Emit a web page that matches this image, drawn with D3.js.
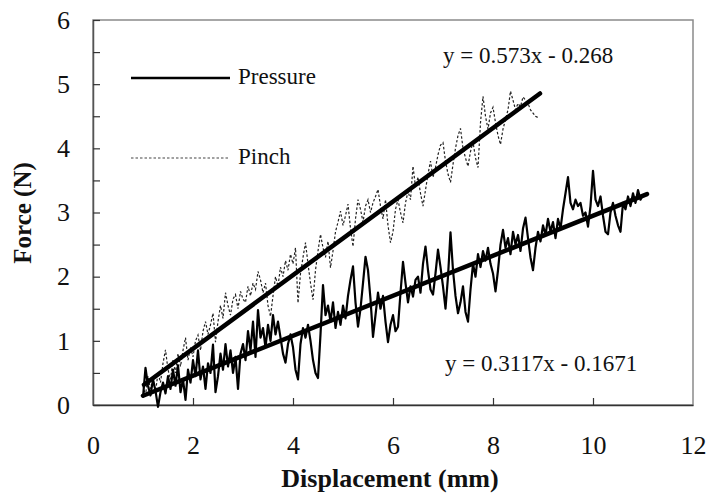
<!DOCTYPE html>
<html>
<head>
<meta charset="utf-8">
<script src="https://cdn.jsdelivr.net/npm/d3@7"></script>
<style>
  html, body { margin: 0; padding: 0; background: #fff; }
  svg { display: block; }
  text { font-family: "Liberation Serif", "Times New Roman", serif; fill: #111; }
</style>
</head>
<body>
<svg id="chart" width="710" height="495"></svg>
<script>
// Force vs displacement, sampled every 0.05 mm
const SAMPLE_STEP = 0.05;
const pressureStart = 1.0;
const pinchStart = 1.0;

const pressureForce = [
  0.12, 0.58, 0.30, 0.15, 0.40, 0.22, -0.03, 0.20, 0.35, 0.18,
  0.45, 0.25, 0.55, 0.30, 0.62, 0.20, 0.40, 0.08, 0.55, 0.35,
  0.70, 0.45, 0.85, 0.40, 0.60, 0.25, 0.65, 0.50, 0.94, 0.20,
  0.45, 0.80, 0.55, 0.95, 0.60, 0.85, 0.50, 0.75, 0.25, 0.80,
  0.95, 0.70, 1.15, 0.85, 1.30, 0.75, 1.48, 1.05, 1.20, 0.90,
  1.25, 1.00, 1.40, 1.10, 1.30, 1.05, 0.80, 0.66, 0.95, 1.10,
  0.90, 0.55, 0.40, 0.95, 1.20, 1.05, 1.25, 1.00, 0.70, 0.50,
  0.42, 1.10, 1.87, 1.40, 1.55, 1.30, 1.60, 1.20, 1.45, 1.25,
  1.55, 1.35, 1.70, 1.95, 2.16, 1.60, 1.22, 1.50, 1.90, 2.31,
  2.10, 1.65, 1.06, 1.40, 1.75, 1.50, 1.70, 1.30, 0.98, 1.25,
  1.40, 1.15, 1.22, 1.75, 2.23, 1.90, 1.60, 1.85, 1.69, 1.95,
  2.00, 1.75, 2.20, 2.47, 2.10, 1.80, 1.72, 2.05, 2.42, 2.15,
  1.85, 1.50, 2.00, 2.69, 2.10, 1.70, 1.43, 1.60, 1.85, 1.45,
  1.30, 1.80, 2.20, 2.00, 2.35, 2.15, 2.40, 2.25, 2.45, 2.20,
  2.05, 1.77, 2.10, 2.50, 2.73, 2.45, 2.60, 2.35, 2.70, 2.50,
  2.65, 2.40, 2.75, 2.92, 2.60, 2.30, 2.10, 2.45, 2.70, 2.55,
  2.80, 2.65, 2.90, 2.70, 2.85, 2.60, 2.90, 2.75, 3.05, 3.30,
  3.55, 3.15, 3.05, 3.20, 3.10, 3.15, 2.95, 3.00, 2.78, 3.10,
  3.65, 3.20, 3.10, 3.25, 2.95, 2.70, 2.66, 3.00, 3.15, 2.95,
  2.80, 2.70, 3.15, 3.05, 3.25, 3.10, 3.30, 3.15, 3.35, 3.20,
  3.28
];

const pinchForce = [
  0.30, 0.15, 0.45, 0.25, 0.40, 0.20, 0.50, 0.35, 0.65, 0.86,
  0.55, 0.40, 0.70, 0.50, 0.80, 0.60, 0.85, 1.05, 0.70, 0.90,
  0.75, 1.00, 1.09, 0.85, 1.15, 1.30, 1.10, 1.25, 1.43, 0.98,
  1.30, 1.55, 1.35, 1.75, 1.55, 1.40, 1.65, 1.72, 1.50, 1.77,
  1.65, 1.60, 1.85, 1.70, 1.90, 1.80, 2.08, 1.95, 1.75, 1.90,
  1.55, 1.38, 1.70, 2.00, 1.85, 2.15, 2.00, 2.25, 2.10, 2.35,
  2.20, 2.45, 1.59, 2.05, 2.30, 2.53, 2.20, 1.90, 1.64, 2.10,
  2.40, 2.66, 2.45, 2.30, 2.55, 2.14, 2.40, 2.70, 2.85, 3.02,
  2.80, 2.95, 3.13, 2.75, 2.47, 2.90, 3.20, 3.05, 2.85, 3.10,
  3.20, 3.00, 3.15, 3.25, 3.36, 3.10, 2.90, 3.20, 2.80, 2.53,
  2.70, 3.05, 3.20, 3.00, 2.84, 3.15, 3.33, 3.20, 3.72, 3.40,
  3.55, 3.30, 3.10, 3.35, 3.60, 3.80, 3.55, 3.70, 3.90, 4.05,
  4.09, 3.80, 3.60, 3.47, 3.75, 4.00, 4.20, 4.31, 4.00, 3.85,
  3.72, 3.95, 4.10, 3.85, 3.70, 4.40, 4.81, 4.50, 4.30, 4.55,
  4.64, 4.40, 4.20, 4.06, 4.30, 4.45, 4.60, 4.89, 4.75, 4.60,
  4.70, 4.65, 4.80, 4.75, 4.70, 4.60, 4.55, 4.50, 4.48
];

// Linear fits: y = slope * x + intercept over the fitted span
const fitSlopes = [0.3117, 0.573];
const fitIntercepts = [-0.1671, -0.268];
const fitSpans = [[1.0, 11.08], [1.02, 8.94]];
const fitLabels = ["y = 0.3117x - 0.1671", "y = 0.573x - 0.268"];

const xTicks = [0, 2, 4, 6, 8, 10, 12];
const yTicks = [0, 1, 2, 3, 4, 5, 6];
const yMinorTicks = [0.5, 1.5, 2.5, 3.5, 4.5, 5.5];
const legendNames = ["Pressure", "Pinch"];

const svg = d3.select("#chart");
const plot = { left: 93, right: 693, top: 20, bottom: 405 };

const x = d3.scaleLinear().domain([0, 12]).range([plot.left, plot.right]);
const y = d3.scaleLinear().domain([0, 6]).range([plot.bottom, plot.top]);

const toSeries = (vals, start) =>
  vals.map((v, i) => ({ d: +(start + i * SAMPLE_STEP).toFixed(2), f: v }));

const pressure = toSeries(pressureForce, pressureStart);
const pinch = toSeries(pinchForce, pinchStart);

// plot frame
svg.append("rect")
  .attr("x", plot.left).attr("y", plot.top)
  .attr("width", plot.right - plot.left).attr("height", plot.bottom - plot.top)
  .attr("fill", "none").attr("stroke", "#8a8a8a").attr("stroke-width", 1.5);

// y axis: ticks every 0.5 pointing inward, labels on integers
const yAxis = d3.axisLeft(y)
  .tickValues(yTicks.concat(yMinorTicks).sort((a, b) => a - b))
  .tickSizeInner(-7).tickSizeOuter(0).tickPadding(23)
  .tickFormat(d => Number.isInteger(d) ? d3.format("d")(d) : "");
const gy = svg.append("g").attr("transform", `translate(${plot.left},0)`)
  .call(yAxis).attr("font-family", null);
gy.select(".domain").attr("stroke", "#555").attr("stroke-width", 1.5);
gy.selectAll(".tick line").attr("stroke", "#333").attr("stroke-width", 1.2);
gy.selectAll(".tick text")
  .style("font-family", "'Liberation Serif', serif").style("font-size", "26px").attr("fill", "#111");

// x axis
const xAxis = d3.axisBottom(x)
  .tickValues(xTicks).tickSizeInner(-7).tickSizeOuter(0).tickPadding(31)
  .tickFormat(d3.format("d"));
const gx = svg.append("g").attr("transform", `translate(0,${plot.bottom})`)
  .call(xAxis).attr("font-family", null);
gx.select(".domain").attr("stroke", "#333").attr("stroke-width", 1.5);
gx.selectAll(".tick line").attr("stroke", "#333").attr("stroke-width", 1.2)
  .attr("display", d => (d === 0 || d === 12) ? "none" : null);
gx.selectAll(".tick text")
  .style("font-family", "'Liberation Serif', serif").style("font-size", "26px").attr("fill", "#111");

// axis titles
svg.append("text")
  .attr("x", 390).attr("y", 487).attr("text-anchor", "middle")
  .style("font-size", "26px").style("font-weight", "bold")
  .text("Displacement (mm)");
svg.append("text")
  .attr("transform", "translate(31,213) rotate(-90)")
  .attr("text-anchor", "middle")
  .style("font-size", "25px").style("font-weight", "bold")
  .text("Force (N)");

const line = d3.line().x(p => x(p.d)).y(p => y(p.f));

// raw measurements
svg.append("path").datum(pinch)
  .attr("d", line).attr("fill", "none")
  .attr("stroke", "#222").attr("stroke-width", 1.2)
  .attr("stroke-dasharray", "2.5,2");
svg.append("path").datum(pressure)
  .attr("d", line).attr("fill", "none")
  .attr("stroke", "#000").attr("stroke-width", 2.2)
  .attr("stroke-linejoin", "round");

// trend lines
fitSlopes.forEach((m, i) => {
  const pts = fitSpans[i].map(d => ({ d, f: m * d + fitIntercepts[i] }));
  svg.append("path").datum(pts)
    .attr("d", line).attr("fill", "none")
    .attr("stroke", "#000").attr("stroke-width", 4.5)
    .attr("stroke-linecap", "round");
});

// fit equations
svg.append("text").attr("x", 443).attr("y", 63)
  .style("font-size", "23px").text(fitLabels[1]);
svg.append("text").attr("x", 445).attr("y", 371)
  .style("font-size", "23px").text(fitLabels[0]);

// legend
const legendY = [78, 158];
legendNames.forEach((name, i) => {
  svg.append("line")
    .attr("x1", 131).attr("x2", 230)
    .attr("y1", legendY[i]).attr("y2", legendY[i])
    .attr("stroke", i === 0 ? "#000" : "#444")
    .attr("stroke-width", i === 0 ? 2.5 : 1.1)
    .attr("stroke-dasharray", i === 0 ? null : "2.5,2");
  svg.append("text")
    .attr("x", 238).attr("y", legendY[i] + 6)
    .style("font-size", "23px").text(name);
});
</script>
</body>
</html>
